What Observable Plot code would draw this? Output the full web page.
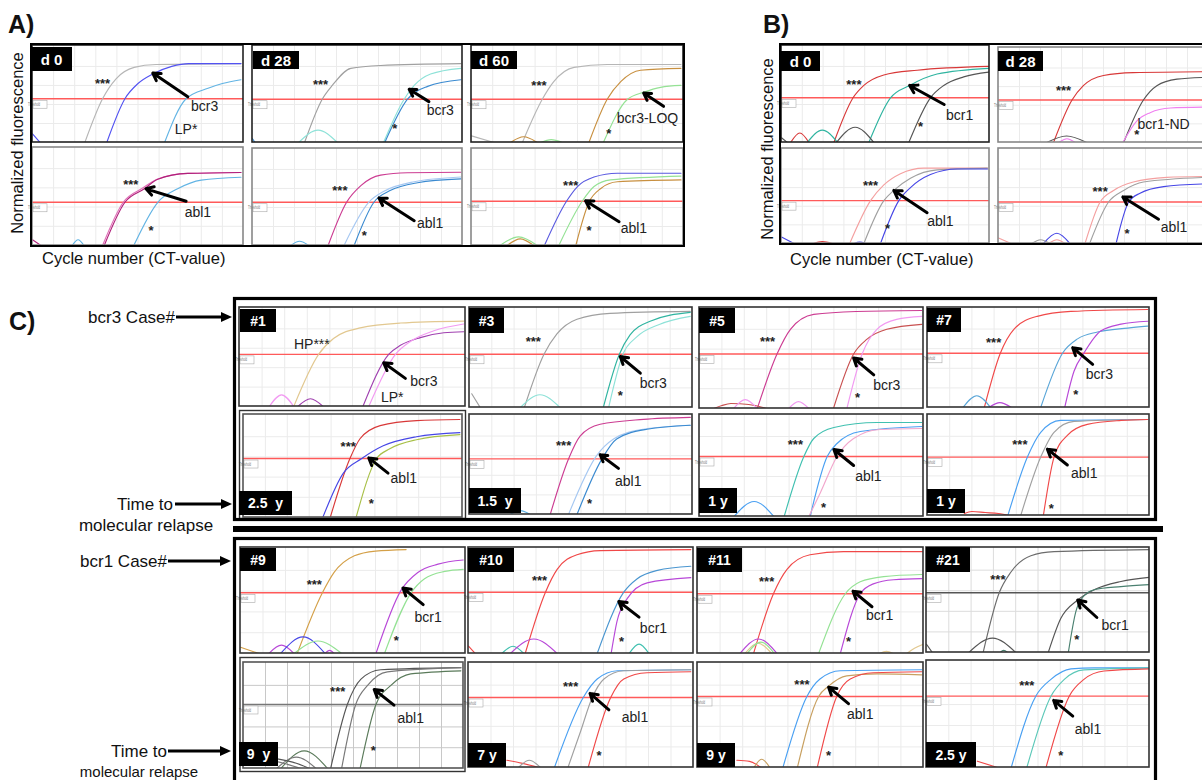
<!DOCTYPE html>
<html><head><meta charset="utf-8">
<script src="https://cdn.jsdelivr.net/npm/d3@7"></script>
<script src="https://cdn.jsdelivr.net/npm/@observablehq/plot@0.6"></script>
<style>
body{margin:0;background:#fff;}
#fig{position:relative;width:1202px;height:780px;overflow:hidden;font-family:"Liberation Sans",Arial,sans-serif;color:#111;background:#fff;}
.tag{position:absolute;background:#000;color:#fff;font-weight:bold;display:flex;align-items:center;justify-content:center;font-size:14px;white-space:pre;}
</style></head><body><div id="fig"></div><script>
// ---- grid ticks (cycles 0-50, normalized fluorescence 0-1) ----
const xTicks = [5,10,15,20,25,30,35,40,45];
const yTicks = [0.2,0.4,0.6,0.8];

// ---- A) d 0 ----
const A0t = [
 ["lgray",[[12.4,0],[16.6,0.46],[19.8,0.67],[24.1,0.79],[29.3,0.82],[49.4,0.83]]],
 ["mblue",[[17.6,0],[21.9,0.46],[25,0.62],[28.5,0.72],[33,0.8],[37,0.83],[49.4,0.83]]],
 ["lblue",[[31.3,0],[36.4,0.46],[41.6,0.57],[45,0.62],[49.4,0.66]]],
 ["mblue",[[0,0.09],[1.8,0]]]];
const A0t_notes = [[16.6,0.62,"***"],[40.8,0.38,"bcr3"],[36.4,0.14,"LP*"]];
const A0t_arrow = [36.8,0.48,28.5,0.73];
const A0b = [
 ["pink",[[16.6,0],[21.5,0.45],[26.2,0.6],[29.5,0.69],[36.8,0.75],[49.4,0.76]]],
 ["magenta",[[17,0],[21.9,0.45],[26.5,0.59],[29.7,0.69],[36.8,0.75],[49.4,0.76]]],
 ["lblue",[[24,0],[29.7,0.45],[34.4,0.59],[40,0.68],[49.4,0.71]]],
 ["lblue",[[9.4,0],[10.8,0.06],[12.2,0]]],
 ["magenta",[[0,0.06],[2,0]]]];
const A0b_notes = [[23.3,0.63,"***"],[39.2,0.34,"abl1"],[28.1,0.15,"*"]];
const A0b_arrow = [36.4,0.46,26.9,0.59];
// ---- A) d 28 ----
const A28t = [
 ["gray",[[12.4,0],[16.6,0.455],[19,0.6],[23.4,0.78],[30.5,0.81],[49.6,0.83]]],
 ["cyan",[[11,0],[15.6,0.13],[20.2,0]]],
 ["cyan",[[31.2,0],[36.1,0.455],[38.5,0.6],[42.4,0.72],[49.6,0.78]]],
 ["blue",[[31.5,0],[36.9,0.455],[41.7,0.59],[49.6,0.66]]],
 ["blue",[[0,0.04],[0.6,0]]]];
const A28t_notes = [[16.2,0.61,"***"],[44.7,0.34,"bcr3"],[33.9,0.14,"*"]];
const A28t_arrow = [42,0.43,37.3,0.56];
const A28b = [
 ["magenta2",[[18,0],[22.4,0.455],[25.8,0.63],[30.5,0.74],[36.9,0.765],[49.6,0.77]]],
 ["pblue",[[21.8,0],[27.7,0.455],[31.3,0.57],[38.5,0.67],[49.6,0.72]]],
 ["blue",[[24.2,0],[28.9,0.455],[32.9,0.58],[39.3,0.66],[49.6,0.70]]],
 ["lblue",[[9.1,0],[11.2,0.045],[13.4,0]]]];
const A28b_notes = [[20.8,0.57,"***"],[42.3,0.23,"abl1"],[26.6,0.10,"*"]];
const A28b_arrow = [38.5,0.26,30.1,0.50];
// ---- A) d 60 ----
const A60t = [
 ["lgray",[[12,0],[16.7,0.455],[19.4,0.64],[24.2,0.79],[32,0.82],[49.4,0.82]]],
 ["tan",[[27.7,0],[32,0.455],[35.2,0.64],[39.9,0.76],[49.4,0.78]]],
 ["green",[[31.1,0],[36.8,0.455],[40.7,0.53],[44.6,0.58],[49.4,0.60]]],
 ["lgray",[[0,0.07],[5.3,0]]],
 ["tan",[[9.2,0],[12.3,0.06],[15.5,0]]],
 ["green",[[16.3,0],[18.8,0.03],[21.4,0]]]];
const A60t_notes = [[15.9,0.60,"***"],[41.5,0.25,"bcr3-LOQ"],[32.4,0.09,"*"]];
const A60t_arrow = [45.3,0.38,40.6,0.52];
const A60b = [
 ["bpurple",[[17.2,0],[22.4,0.465],[25,0.62],[28.9,0.72],[34.4,0.76],[49.4,0.76]]],
 ["green",[[20.6,0],[26.1,0.465],[28.9,0.62],[32.8,0.69],[49.4,0.73]]],
 ["tan",[[24.6,0],[27.7,0.455],[30.5,0.60],[34.4,0.67],[49.4,0.69]]],
 ["green",[[6.7,0],[11.1,0.09],[15.5,0]]],
 ["tan",[[8.4,0],[11.5,0.07],[14.7,0]]]];
const A60b_notes = [[23.4,0.63,"***"],[38.3,0.18,"abl1"],[27.7,0.15,"*"]];
const A60b_arrow = [34.8,0.25,26.9,0.47];
// ---- B) d 0 ----
const B0t = [
 ["red",[[12.6,0],[17.2,0.47],[19.8,0.6],[24.6,0.71],[32.6,0.76],[49.8,0.80]]],
 ["teal",[[21,0],[26.2,0.47],[30.8,0.6],[37.4,0.72],[49.8,0.78]]],
 ["dgray",[[30.6,0],[35.8,0.47],[39,0.6],[43.8,0.69],[49.8,0.74]]],
 ["red",[[2.2,0],[4.4,0.1],[6.6,0]]],
 ["teal",[[6.2,0],[9.8,0.13],[13.5,0]]],
 ["dgray",[[13.2,0],[17.7,0.16],[22.2,0]]],
 ["dgray",[[0,0.05],[1.4,0]]]];
const B0t_notes = [[17.4,0.61,"***"],[42.8,0.28,"bcr1"],[33.4,0.16,"*"]];
const B0t_arrow = [39.1,0.40,30.8,0.6];
const B0b = [
 ["lred",[[16.4,0],[21.4,0.46],[24.6,0.63],[28.6,0.75],[34.2,0.81],[49.5,0.81]]],
 ["gray",[[19.8,0],[24.6,0.46],[27,0.57],[31,0.70],[37.4,0.79],[49.5,0.81]]],
 ["blue3",[[23.8,0],[28.2,0.46],[31,0.6],[35.8,0.74],[42.2,0.80],[49.5,0.80]]],
 ["blue3",[[0,0.07],[3,0]]],
 ["red",[[7.7,0],[9.8,0.02],[12.2,0]]],
 ["blue3",[[17.4,0],[18.8,0.015],[20.2,0]]]];
const B0b_notes = [[21.4,0.62,"***"],[38.2,0.24,"abl1"],[25.5,0.16,"*"]];
const B0b_arrow = [35,0.33,27,0.57];
// ---- B) d 28 ----
const B28t = [
 ["red",[[13.1,0],[17.5,0.456],[20.2,0.61],[25,0.72],[32.1,0.75],[49.5,0.76]]],
 ["dgray",[[29.8,0],[34.5,0.456],[37.7,0.61],[42.5,0.68],[49.5,0.70]]],
 ["lmag",[[29.6,0],[32.9,0.23],[36.1,0.32],[40.9,0.37],[49.5,0.38]]],
 ["dgray",[[11.5,0],[16.2,0.07],[21,0]]],
 ["lmag",[[14.3,0],[16.3,0.04],[18.3,0]]]];
const B28t_notes = [[15.5,0.56,"***"],[39.3,0.19,"bcr1-ND"],[32.9,0.08,"*"]];
const B28b = [
 ["lred",[[20.6,0],[24.2,0.446],[27.4,0.57],[32.1,0.66],[40.1,0.71],[49.5,0.72]]],
 ["gray",[[21.7,0],[26.2,0.446],[29.8,0.57],[34.5,0.66],[49.5,0.71]]],
 ["blue3",[[28,0],[31,0.446],[33.7,0.54],[39.3,0.61],[49.5,0.64]]],
 ["blue3",[[10.7,0],[13.9,0.11],[17,0]]],
 ["lred",[[11.9,0],[13.9,0.04],[15.9,0]]],
 ["gray",[[7.9,0],[10,0.04],[12.3,0]]],
 ["lred",[[0,0.06],[3,0]]]];
const B28b_notes = [[24.2,0.55,"***"],[41.8,0.17,"abl1"],[30.6,0.10,"*"]];
const B28b_arrow = [38.1,0.26,29.6,0.5];
// ---- C) bcr3 cases ----
const C1t = [
 ["ltan",[[12,0],[17.5,0.537],[20.8,0.70],[26.7,0.81],[35.6,0.86],[49.6,0.88]]],
 ["purple",[[27.3,0],[33,0.537],[35.6,0.63],[40,0.71],[45.2,0.76],[49.6,0.77]]],
 ["lpink",[[28.6,0],[34.5,0.537],[37.8,0.67],[43,0.78],[49.6,0.85]]],
 ["lpink",[[6.6,0],[9.3,0.12],[12,0]]],
 ["purple",[[12.9,0],[15.7,0.08],[18.5,0]]]];
const C1t_notes = [[16,0.64,"HP***"],[40.8,0.26,"bcr3"],[33.8,0.09,"LP*"]];
const C1t_arrow = [36.7,0.29,31.9,0.45];
const C1b = [
 ["red",[[19.8,0],[24.3,0.584],[26.6,0.78],[31.2,0.91],[39.5,0.96],[49.4,0.97]]],
 ["blue3",[[18.1,0],[22.8,0.44],[27,0.584],[31.9,0.71],[39.5,0.80],[49.4,0.84]]],
 ["ygreen",[[25.7,0],[30.4,0.584],[33.4,0.68],[39.5,0.77],[49.4,0.82]]]];
const C1b_notes = [[23.9,0.70,"***"],[36.6,0.39,"abl1"],[29.2,0.14,"*"]];
const C1b_arrow = [33,0.44,28.6,0.59];
const C3t = [
 ["gray",[[12.3,0],[16.7,0.543],[19.6,0.75],[24.1,0.9],[31.5,0.96],[49.5,0.98]]],
 ["teal",[[30,0],[33.6,0.543],[36,0.74],[40.5,0.88],[49.5,0.97]]],
 ["cyan",[[31.2,0],[34.4,0.543],[37.5,0.72],[42.7,0.85],[49.5,0.93]]],
 ["cyan",[[11.4,0],[15.8,0.13],[20.3,0]]],
 ["gray",[[0.5,0.14],[2.4,0]]]];
const C3t_notes = [[14.3,0.67,"***"],[41.2,0.24,"bcr3"],[33.8,0.12,"*"]];
const C3t_arrow = [38.3,0.35,33.8,0.52];
const C3b = [
 ["magenta2",[[18.1,0],[22.2,0.567],[24.8,0.8],[29.3,0.92],[39,0.97],[49.5,0.99]]],
 ["pblue",[[22.2,0],[28.5,0.6],[32.3,0.77],[39,0.87],[49.5,0.91]]],
 ["blue",[[24.1,0],[29.7,0.567],[33,0.77],[39.8,0.87],[49.5,0.91]]],
 ["lblue",[[9.1,0],[11.4,0.04],[13.6,0]]]];
const C3b_notes = [[21.1,0.70,"***"],[35.6,0.34,"abl1"],[26.9,0.11,"*"]];
const C3b_arrow = [33.4,0.47,29.3,0.61];
const C5t = [
 ["magenta2",[[12.9,0],[17.3,0.55],[20.3,0.80],[25.5,0.95],[35,0.98],[49.6,0.99]]],
 ["brred",[[29.9,0],[34.4,0.55],[37.4,0.70],[41.8,0.80],[49.6,0.85]]],
 ["lpink",[[32.9,0],[36.3,0.55],[39.6,0.80],[44,0.9],[49.6,0.93]]],
 ["brred",[[3.2,0],[5,0.03],[7,0.05],[11,0.04],[15,0]]],
 ["lpink",[[7.6,0],[10.2,0.09],[12.9,0]]],
 ["lpink",[[19.9,0],[22.1,0.07],[24.4,0]]]];
const C5t_notes = [[15.2,0.67,"***"],[41.8,0.23,"bcr3"],[35.3,0.11,"*"]];
const C5t_arrow = [38.9,0.34,34.4,0.51];
const C5b = [
 ["teal2",[[18.9,0],[23.3,0.60],[25.5,0.78],[30,0.89],[39.6,0.94],[49.6,0.94]]],
 ["blue4",[[24.7,0],[28.5,0.60],[30.7,0.73],[35.9,0.85],[49.6,0.90]]],
 ["lpink2",[[24.4,0],[27,0.24],[30.7,0.6],[34.4,0.78],[40.3,0.87],[49.6,0.88]]],
 ["blue4",[[7.7,0],[12.2,0.15],[16.6,0]]]];
const C5b_notes = [[21.4,0.72,"***"],[37.7,0.40,"abl1"],[27.7,0.09,"*"]];
const C5b_arrow = [34.4,0.51,30,0.67];
const C7t = [
 ["red2",[[12.8,0],[16.4,0.553],[19.5,0.80],[24.7,0.93],[32.3,0.98],[49.6,1.0]]],
 ["blue5",[[25.5,0],[30.4,0.553],[33.8,0.70],[38.3,0.77],[45.1,0.81],[49.6,0.83]]],
 ["purple2",[[30.9,0],[33,0.37],[35.3,0.56],[39,0.78],[43.6,0.85],[49.6,0.88]]],
 ["blue5",[[8,0],[11.1,0.12],[14.2,0]]],
 ["purple2",[[13.8,0],[16.3,0.05],[18.9,0]]]];
const C7t_notes = [[14.9,0.66,"***"],[38.7,0.34,"bcr3"],[33.4,0.13,"*"]];
const C7t_arrow = [37.2,0.44,32.7,0.61];
const C7b = [
 ["blue4",[[18.1,0],[22.5,0.59],[25.5,0.84],[30,0.96],[49.6,0.97]]],
 ["gray",[[21,0],[25.5,0.59],[28.5,0.84],[33,0.95],[49.6,0.97]]],
 ["red2",[[26.1,0],[28.5,0.59],[31.5,0.81],[36,0.92],[43.6,0.96],[49.6,0.97]]],
 ["red2",[[8.3,0.02],[10,0.04],[13,0.03],[16,0.02],[18.5,0]]]];
const C7b_notes = [[20.8,0.71,"***"],[35.3,0.42,"abl1"],[27.9,0.07,"*"]];
const C7b_arrow = [31.5,0.51,27,0.67];
// ---- C) bcr1 cases ----
const C9t = [
 ["orange",[[12.6,0],[18.2,0.584],[20.8,0.78],[25.3,0.94],[30,0.985],[36.8,1.0]]],
 ["purple2",[[30.1,0],[35.7,0.61],[39.4,0.78],[43.9,0.86],[49.5,0.9]]],
 ["green",[[32,0],[37.9,0.584],[40.9,0.72],[45.4,0.79],[49.5,0.81]]],
 ["orange",[[0,0.06],[4.1,0]]],
 ["purple2",[[6.3,0],[9.1,0.08],[11.9,0]]],
 ["blue3",[[8.9,0],[13.9,0.16],[18.8,0]]],
 ["green",[[11.9,0],[17.2,0.12],[22.5,0]]],
 ["purple2",[[18.8,0],[19.8,0.03],[20.8,0]]]];
const C9t_notes = [[16.4,0.66,"***"],[41.7,0.35,"bcr1"],[34.6,0.12,"*"]];
const C9t_arrow = [40.6,0.47,36.1,0.63];
const C9b = [
 ["dgray",[[19.8,0],[23.6,0.616],[26.7,0.86],[31.2,0.95],[49.4,0.97]]],
 ["gray2",[[22.3,0],[25.5,0.616],[28.2,0.8],[32.7,0.93],[49.4,0.97]]],
 ["ggreen",[[26.5,0],[30.1,0.616],[33.5,0.8],[38,0.91],[49.4,0.94]]],
 ["ggreen",[[8.5,0],[13.8,0.17],[19.1,0]]],
 ["gray2",[[7.5,0],[12,0.11],[16.5,0]]],
 ["dgray",[[0,0.11],[4,0.11],[8,0.09],[12,0.05],[15,0]]],
 ["gray2",[[0,0.08],[5,0.08],[10,0.04],[13,0]]]];
const C9b_notes = [[21.4,0.74,"***"],[38,0.48,"abl1"],[29.5,0.17,"*"]];
const C9b_arrow = [34.2,0.61,29.7,0.76];
const C10t = [
 ["red2",[[12.6,0],[17.1,0.59],[19.7,0.81],[24.1,0.95],[29.3,0.99],[49.4,1.0]]],
 ["blue2",[[28.6,0],[34.5,0.59],[37.5,0.72],[42,0.80],[49.4,0.84]]],
 ["purple2",[[31.7,0],[33,0.31],[35.3,0.53],[39.7,0.68],[49.4,0.73]]],
 ["teal2",[[7.4,0],[9.9,0.07],[12.3,0]]],
 ["purple2",[[9.3,0],[14.5,0.14],[19.7,0]]],
 ["teal2",[[35.7,0],[37.9,0.09],[40.1,0]]],
 ["red2",[[0,0.07],[1.5,0]]]];
const C10t_notes = [[15.8,0.70,"***"],[41.1,0.24,"bcr1"],[34,0.11,"*"]];
const C10t_arrow = [37.9,0.35,33.4,0.50];
const C10b = [
 ["blue4",[[19.1,0],[25.5,0.68],[28.6,0.86],[33.1,0.94],[49.4,0.95]]],
 ["gray",[[22.1,0],[24.9,0.35],[27.5,0.68],[30.1,0.86],[34.5,0.94],[49.4,0.95]]],
 ["red2",[[26.6,0],[31.6,0.68],[34.5,0.86],[39.7,0.92],[49.4,0.93]]],
 ["red2",[[8.5,0.07],[12,0.04],[15.6,0]]],
 ["gray",[[11.1,0],[13.5,0.07],[16,0]]]];
const C10b_notes = [[22.7,0.78,"***"],[37,0.49,"abl1"],[29,0.11,"*"]];
const C10b_arrow = [31.2,0.56,27,0.72];
const C11t = [
 ["red2",[[12.4,0],[16.8,0.575],[19.8,0.81],[24.9,0.95],[32.3,0.98],[50,0.98]]],
 ["green",[[26.8,0],[32.7,0.575],[36,0.69],[41.2,0.74],[49.6,0.76]]],
 ["purple2",[[31.6,0],[36,0.575],[38.9,0.67],[43.4,0.71],[49.6,0.72]]],
 ["purple2",[[9.4,0],[13.5,0.14],[17.6,0]]],
 ["ltan",[[10.5,0],[13.4,0.1],[16.4,0]]],
 ["green",[[11,0],[14,0.11],[17,0]]],
 ["ltan",[[40.3,0],[41.8,0.02],[43.3,0]]],
 ["ltan",[[46.3,0],[48,0.05],[50,0.09]]]];
const C11t_notes = [[15.3,0.69,"***"],[40.3,0.37,"bcr1"],[33.4,0.11,"*"]];
const C11t_arrow = [38.6,0.45,34.4,0.60];
const C11b = [
 ["blue4",[[18.9,0],[24.2,0.69],[27.1,0.86],[31.6,0.94],[49.6,0.95]]],
 ["tan2",[[22.1,0],[26.8,0.69],[29,0.79],[33,0.89],[39.7,0.91],[49.6,0.90]]],
 ["red2",[[26.5,0],[30.8,0.69],[33.8,0.86],[38.9,0.92],[49.6,0.93]]],
 ["red2",[[8.7,0.07],[11.5,0.06],[14,0]]],
 ["tan2",[[12.5,0],[14.2,0.08],[16,0]]]];
const C11b_notes = [[23.1,0.80,"***"],[36,0.51,"abl1"],[29,0.11,"*"]];
const C11b_arrow = [33.4,0.62,29,0.78];
const C21t = [
 ["gray3",[[12.7,0],[16.3,0.58],[18.9,0.78],[23.4,0.94],[28.6,0.98],[50,1.0]]],
 ["dgray",[[27.3,0],[30.1,0.33],[33.9,0.51],[37.6,0.61],[43.6,0.69],[50,0.73]]],
 ["dteal",[[31.8,0],[33.5,0.4],[35.3,0.55],[37.6,0.61],[43.6,0.64],[50,0.66]]],
 ["dgray",[[9.5,0],[14.8,0.14],[20,0]]],
 ["dteal",[[16.5,0],[17.3,0.02],[18.2,0]]],
 ["dgray",[[0,0.08],[1.3,0]]]];
const C21t_notes = [[16,0.71,"***"],[42.3,0.26,"bcr1"],[33.7,0.12,"*"]];
const C21t_arrow = [38.2,0.34,33.9,0.51];
const C21b = [
 ["blue4",[[19,0],[24.5,0.68],[27.9,0.84],[32.4,0.94],[37.6,0.95],[50,0.95]]],
 ["teal3",[[22.5,0],[27.9,0.68],[30.9,0.84],[35.3,0.93],[50,0.95]]],
 ["red2",[[26.8,0],[32,0.68],[35.3,0.84],[39.8,0.92],[50,0.94]]],
 ["red2",[[11.4,0.06],[15.9,0]]]];
const C21b_notes = [[22.5,0.78,"***"],[36.2,0.36,"abl1"],[30.1,0.11,"*"]];
const C21b_arrow = [32.8,0.49,28.5,0.64];

// ---- series colours ----
const palette = {
 gray:"#a0a0a0", lgray:"#b6b6b6", dgray:"#555555", gray2:"#787878", gray3:"#6c6c6c",
 mblue:"#5252f2", blue:"#3a8ad0", blue2:"#4a96d0", blue3:"#4646e6", blue4:"#4aa0f2", blue5:"#5aa6d8",
 lblue:"#62b4e4", pblue:"#a6c8f2", bpurple:"#5a5ae0",
 magenta:"#b0207a", magenta2:"#cc3c92", pink:"#e070b8", lpink:"#f29af2", lpink2:"#f2a6cc", lmag:"#f080f0",
 cyan:"#8ee2d8", teal:"#2fb4a0", teal2:"#40c0b0", teal3:"#5cc8b8", dteal:"#4a8070",
 tan:"#c89040", tan2:"#c8a060", ltan:"#e2c890", orange:"#d4a048", green:"#94e294", ygreen:"#a8c048", ggreen:"#5a7a5a",
 red:"#d83838", red2:"#f04848", lred:"#f4a0a0", brred:"#c85050", purple:"#a040b0", purple2:"#b848d8"
};

// ---- panel layout [left, top, width, height] ----
const panels = [
 {data:A0t, notes:A0t_notes, arrow:A0t_arrow, thr:0.46, box:[32,45,211,97], border:"#222"},
 {data:A0b, notes:A0b_notes, arrow:A0b_arrow, thr:0.45, box:[32,147,211,98], border:"#888"},
 {data:A28t, notes:A28t_notes, arrow:A28t_arrow, thr:0.455, box:[252,45,210,97], border:"#222"},
 {data:A28b, notes:A28b_notes, arrow:A28b_arrow, thr:0.455, box:[252,148,210,97], border:"#888"},
 {data:A60t, notes:A60t_notes, arrow:A60t_arrow, thr:0.455, box:[471,45,212,97], border:"#222"},
 {data:A60b, notes:A60b_notes, arrow:A60b_arrow, thr:0.465, box:[471,148,212,97], border:"#888"},
 {data:B0t, notes:B0t_notes, arrow:B0t_arrow, thr:0.47, box:[781,45,208,97], border:"#222"},
 {data:B0b, notes:B0b_notes, arrow:B0b_arrow, thr:0.46, box:[781,148,208,95], border:"#888"},
 {data:B28t, notes:B28t_notes, arrow:null, thr:0.456, box:[998,47,210,95], border:"#888"},
 {data:B28b, notes:B28b_notes, arrow:B28b_arrow, thr:0.446, box:[998,148,210,95], border:"#888"},
 {data:C1t, notes:C1t_notes, arrow:C1t_arrow, thr:0.537, box:[239,307,226,99], border:"#333"},
 {data:C1b, notes:C1b_notes, arrow:C1b_arrow, thr:0.584, box:[243,414,219,103], border:"#555"},
 {data:C3t, notes:C3t_notes, arrow:C3t_arrow, thr:0.543, box:[469,307,223,100], border:"#333"},
 {data:C3b, notes:C3b_notes, arrow:C3b_arrow, thr:0.567, box:[469,414,223,100], border:"#333"},
 {data:C5t, notes:C5t_notes, arrow:C5t_arrow, thr:0.55, box:[699,307,224,101], border:"#333"},
 {data:C5b, notes:C5b_notes, arrow:C5b_arrow, thr:0.60, box:[699,414,224,102], border:"#333"},
 {data:C7t, notes:C7t_notes, arrow:C7t_arrow, thr:0.553, box:[927,307,222,100], border:"#333"},
 {data:C7b, notes:C7b_notes, arrow:C7b_arrow, thr:0.59, box:[927,414,222,101], border:"#333"},
 {data:C9t, notes:C9t_notes, arrow:C9t_arrow, thr:0.584, box:[240,547,225,106], border:"#333"},
 {data:C9b, notes:C9b_notes, arrow:C9b_arrow, thr:0.616, box:[243,662,220,106], border:"#555", grid:"#c8c8c8", thrColor:"#777"},
 {data:C10t, notes:C10t_notes, arrow:C10t_arrow, thr:0.59, box:[468,547,225,106], border:"#333"},
 {data:C10b, notes:C10b_notes, arrow:C10b_arrow, thr:0.68, box:[468,662,225,105], border:"#333"},
 {data:C11t, notes:C11t_notes, arrow:C11t_arrow, thr:0.575, box:[697,547,226,106], border:"#333"},
 {data:C11b, notes:C11b_notes, arrow:C11b_arrow, thr:0.69, box:[697,662,226,105], border:"#333"},
 {data:C21t, notes:C21t_notes, arrow:C21t_arrow, thr:0.58, box:[926,547,223,105], border:"#333", grid:"#dcdcdc", thrColor:"#555"},
 {data:C21b, notes:C21b_notes, arrow:C21b_arrow, thr:0.68, box:[926,660,223,107], border:"#333"}
];

// ---- black label tags [left, top, width, height, text] ----
const tags = [
 [31,47,41,24,"d 0"],[253,51,46,18,"d 28"],[471,51,46,18,"d 60"],
 [781,51,39,20,"d 0"],[998,51,45,20,"d 28"],
 [240,309,36,23,"#1"],[469,308,35,25,"#3"],[699,308,36,25,"#5"],[927,308,34,24,"#7"],
 [240,548,36,23,"#9"],[468,548,46,24,"#10"],[697,548,45,24,"#11"],[926,547,44,25,"#21"],
 [239,491,53,24,"2.5  y"],[469,488,52,25,"1.5  y"],[699,488,38,25,"1 y"],[927,489,38,24,"1 y"],
 [239,742,39,24,"9  y"],[468,743,38,24,"7 y"],[697,743,38,24,"9 y"],[926,742,50,25,"2.5 y"]
];

const fig = document.getElementById("fig");
const FONT = '"Liberation Sans", Arial, sans-serif';
const isStars = s => /^\*+$/.test(s);

function drawPanel(p){
  const [L,T,W,H] = p.box;
  const grid = p.grid || "#ebebeb";
  const marks = [
    Plot.ruleX(xTicks, {stroke:grid, strokeWidth:1}),
    Plot.ruleY(yTicks, {stroke:grid, strokeWidth:1}),
    Plot.ruleY([p.thr], {stroke:p.thrColor || "#ff5a5a", strokeWidth:1.4})
  ];
  for (const [k, pts] of p.data) {
    marks.push(Plot.line(pts, {x:d=>d[0], y:d=>d[1], stroke:palette[k], strokeWidth:1.15, curve:"monotone-x", clip:true}));
  }
  if (p.arrow) marks.push(Plot.arrow([p.arrow], {x1:d=>d[0], y1:d=>d[1], x2:d=>d[2], y2:d=>d[3], stroke:"#000", strokeWidth:3, headLength:4.2, headAngle:62}));
  marks.push(Plot.text(p.notes.filter(n=>isStars(n[2])), {x:d=>d[0], y:d=>d[1], text:d=>d[2], fontSize:13, fontWeight:"bold", fill:"#222"}));
  marks.push(Plot.text(p.notes.filter(n=>!isStars(n[2])), {x:d=>d[0], y:d=>d[1], text:d=>d[2], fontSize:14, fill:"#222"}));
  const svg = Plot.plot({
    width:W, height:H, margin:0,
    x:{domain:[0,50], axis:null}, y:{domain:[0,1.02], axis:null},
    style:{fontFamily:FONT, background:"#fff", position:"absolute", left:L+"px", top:T+"px", overflow:"visible"},
    marks
  });
  // small "Threshold" box under the threshold line
  const ty = H * (1 - p.thr/1.02);
  const g = d3.select(svg).append("g");
  g.append("rect").attr("x",1).attr("y",ty+2).attr("width",14).attr("height",8).attr("fill","#fff").attr("stroke","#aaa").attr("stroke-width",0.6);
  g.append("text").attr("x",2).attr("y",ty+7.6).attr("font-size",4.5).attr("textLength",12).attr("lengthAdjust","spacingAndGlyphs").attr("fill","#777").attr("font-family",FONT).text("Threshold");
  fig.appendChild(svg);
}
panels.forEach(drawPanel);

// ---- overlay: frames, titles, side labels ----
const ov = d3.create("svg").attr("width",1202).attr("height",780)
  .style("position","absolute").style("left","0px").style("top","0px").style("pointer-events","none")
  .style("font-family",FONT);
for (const p of panels) {
  const [L,T,W,H] = p.box;
  ov.append("rect").attr("x",L).attr("y",T).attr("width",W).attr("height",H).attr("fill","none").attr("stroke",p.border).attr("stroke-width",1.6);
}
// extra outer boxes of #1 and #9 lower panels
ov.append("rect").attr("x",239.5).attr("y",410.5).attr("width",226).attr("height",108).attr("fill","none").attr("stroke","#333").attr("stroke-width",1.4);
ov.append("rect").attr("x",240).attr("y",657.5).attr("width",225).attr("height",114).attr("fill","none").attr("stroke","#333").attr("stroke-width",1.4);
// group frames
ov.append("rect").attr("x",31).attr("y",44).attr("width",653).attr("height",202).attr("fill","none").attr("stroke","#000").attr("stroke-width",2);
ov.append("rect").attr("x",780).attr("y",44).attr("width",430).attr("height",200).attr("fill","none").attr("stroke","#000").attr("stroke-width",2);
ov.append("rect").attr("x",234.5).attr("y",298.5).attr("width",921).attr("height",221).attr("fill","none").attr("stroke","#000").attr("stroke-width",3.2);
ov.append("rect").attr("x",233).attr("y",526).attr("width",930).attr("height",6).attr("fill","#000");
ov.append("rect").attr("x",234.5).attr("y",538.5).attr("width",921).attr("height",245).attr("fill","none").attr("stroke","#000").attr("stroke-width",3.2);

const txt = (x,y,s,size,opts={}) => {
  const t = ov.append("text").attr("x",x).attr("y",y).attr("font-size",size).attr("fill","#111").text(s);
  if (opts.bold) t.attr("font-weight","bold");
  if (opts.anchor) t.attr("text-anchor",opts.anchor);
  if (opts.rotate) t.attr("transform",`rotate(-90 ${x} ${y})`);
  return t;
};
txt(8,33,"A)",25,{bold:true});
txt(763,33,"B)",25,{bold:true});
txt(9,330,"C)",25,{bold:true});
txt(17,143,"Normalized fluorescence",16.5,{anchor:"middle",rotate:true}).attr("dominant-baseline","central");
txt(767,149,"Normalized fluorescence",16.5,{anchor:"middle",rotate:true}).attr("dominant-baseline","central");
txt(42,264,"Cycle number (CT-value)",16.5);
txt(790,265,"Cycle number (CT-value)",16.5);
txt(175,323,"bcr3 Case#",17,{anchor:"end"});
txt(173,510,"Time to",17,{anchor:"end"});
txt(146,531,"molecular relapse",17,{anchor:"middle"});
txt(167,567,"bcr1 Case#",17,{anchor:"end"});
txt(167,757,"Time to",17,{anchor:"end"});
txt(139,776.5,"molecular relapse",15,{anchor:"middle"});
const sideArrow = (x1,x2,y) => {
  ov.append("line").attr("x1",x1).attr("y1",y).attr("x2",x2-9).attr("y2",y).attr("stroke","#000").attr("stroke-width",3);
  ov.append("path").attr("d",`M${x2},${y} L${x2-11},${y-5} L${x2-11},${y+5} Z`).attr("fill","#000");
};
sideArrow(176,232,317);
sideArrow(175,232,504);
sideArrow(168,231,561);
sideArrow(168,231,751);
fig.appendChild(ov.node());

// ---- black tags ----
for (const [l,t,w,h,s] of tags) {
  const d = document.createElement("div");
  d.className = "tag";
  d.style.left = l+"px"; d.style.top = t+"px"; d.style.width = w+"px"; d.style.height = h+"px";
  if (s.startsWith("d ")) d.style.fontSize = "15px";
  d.textContent = s;
  fig.appendChild(d);
}
</script></body></html>
